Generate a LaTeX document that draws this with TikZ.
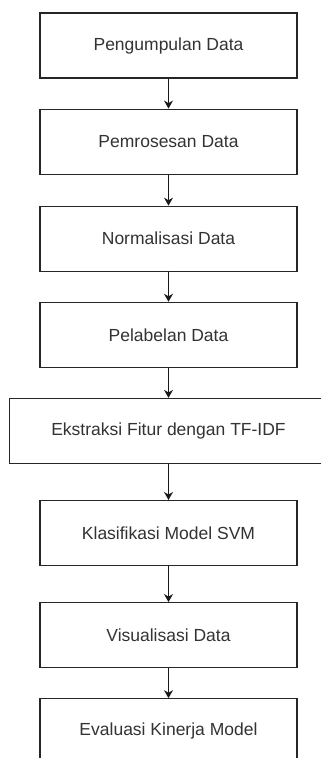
\documentclass[tikz,border=0pt]{standalone}
\usepackage{fontspec}
\setmainfont{Liberation Sans}
\usetikzlibrary{positioning,arrows.meta}

\begin{document}
\begin{tikzpicture}[
  x=1pt,y=1pt,
  font=\fontsize{17.5}{20}\selectfont,
  stepbox/.style={draw=black!85,line width=1.1pt,fill=white,
    minimum width=257pt,minimum height=65pt,inner sep=0pt,
    text=black!80,align=center},
  widebox/.style={stepbox,minimum width=318pt},
  to/.style={-{Stealth[length=8pt,width=9pt]},line width=1.1pt,black!90},
  node distance=30pt]
  \useasboundingbox (0,0) rectangle (321,-758);
  % the steps, one under the other
  \node[stepbox] (collect) at (168.5,-45.5) {Pengumpulan Data};
  \node[stepbox, below=of collect] (preproc) {Pemrosesan Data};
  \node[stepbox, below=31pt of preproc] (normal) {Normalisasi Data};
  \node[stepbox, below=of normal] (label) {Pelabelan Data};
  \node[widebox, below=of label] (tfidf) {Ekstraksi Fitur dengan TF-IDF};
  \node[stepbox, below=36pt of tfidf] (svm) {Klasifikasi Model SVM};
  \node[stepbox, below=36pt of svm] (visual) {Visualisasi Data};
  \node[stepbox, below=of visual] (eval) {Evaluasi Kinerja Model};

  % arrows between the steps
  \draw[to] (collect) -- (preproc);
  \draw[to] (preproc) -- (normal);
  \draw[to] (normal)  -- (label);
  \draw[to] (label)   -- (tfidf);
  \draw[to] (tfidf)   -- (svm);
  \draw[to] (svm)     -- (visual);
  \draw[to] (visual)  -- (eval);
\end{tikzpicture}
\end{document}
